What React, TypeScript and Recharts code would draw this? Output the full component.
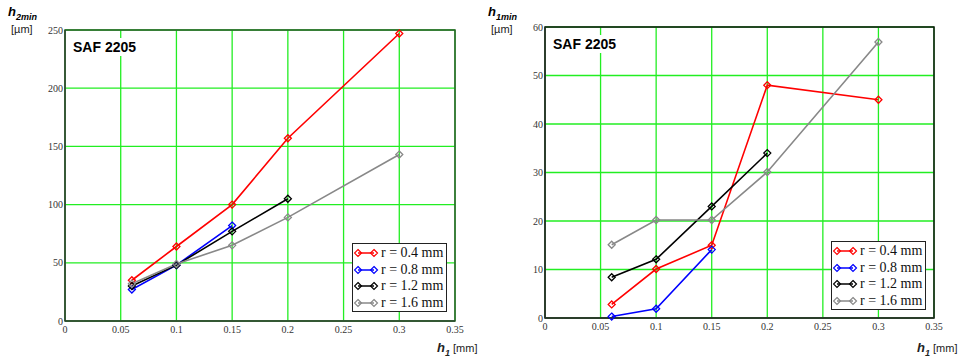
import React from "react";
import {
  CartesianGrid,
  Line,
  LineChart,
  ReferenceArea,
  XAxis,
  YAxis,
} from "recharts";

const seriesNames = ["r = 0.4 mm", "r = 0.8 mm", "r = 1.2 mm", "r = 1.6 mm"];
const seriesColors = ["#ff0000", "#0000ff", "#000000", "#888888"];

// h1 [mm] values per radius
const h1R04 = [0.06, 0.1, 0.15, 0.2, 0.3];
const h1R08 = [0.06, 0.1, 0.15];
const h1R12 = [0.06, 0.1, 0.15, 0.2];
const h1R16 = [0.06, 0.1, 0.15, 0.2, 0.3];

// h2min [µm]
const h2minR04 = [35, 64, 100, 157, 247];
const h2minR08 = [27, 48, 82];
const h2minR12 = [30, 48, 77, 105];
const h2minR16 = [32, 49, 65, 89, 143];

// h1min [µm]
const h1minR04 = [2.8, 10.1, 15, 48, 45];
const h1minR08 = [0.3, 1.9, 14.1];
const h1minR12 = [8.4, 12.1, 23, 34];
const h1minR16 = [15.1, 20.2, 20.2, 30.1, 56.9];

const xTicks = [0, 0.05, 0.1, 0.15, 0.2, 0.25, 0.3, 0.35];
const yTicksLeft = [0, 50, 100, 150, 200, 250];
const yTicksRight = [0, 10, 20, 30, 40, 50, 60];

const xValues = [h1R04, h1R08, h1R12, h1R16];
const zip = (xs: number[], ys: number[]) => xs.map((x, i) => ({ x, y: ys[i] }));

const leftSeries = [h2minR04, h2minR08, h2minR12, h2minR16].map((ys, i) =>
  zip(xValues[i], ys)
);
const rightSeries = [h1minR04, h1minR08, h1minR12, h1minR16].map((ys, i) =>
  zip(xValues[i], ys)
);

const GRID = "#22ee22";
const TICK = { fontSize: 10, fill: "#333", fontFamily: "Liberation Serif" };

function Diamond(props: any) {
  const { cx, cy, stroke } = props;
  if (cx == null || cy == null) return null;
  const s = 3.5;
  return (
    <path
      key={`${cx}-${cy}`}
      d={`M${cx},${cy - s}L${cx + s},${cy}L${cx},${cy + s}L${cx - s},${cy}Z`}
      fill="none"
      stroke={stroke}
      strokeWidth={1.3}
    />
  );
}

function LegendBox({ left, top }: { left: number; top: number }) {
  return (
    <div
      style={{
        position: "absolute",
        left,
        top,
        width: 95,
        height: 69,
        border: "1px solid #222",
        background: "#fff",
        fontFamily: "Liberation Serif",
        fontSize: 14,
        color: "#111",
        boxSizing: "border-box",
        paddingTop: 1,
      }}
    >
      {seriesNames.map((name, i) => (
        <div key={name} style={{ display: "flex", alignItems: "center", height: 16.5 }}>
          <svg width={26} height={10} style={{ marginLeft: 1, flex: "none" }}>
            <line x1={4} y1={5} x2={20} y2={5} stroke={seriesColors[i]} strokeWidth={1.5} />
            <path d="M4,1.5L7.5,5L4,8.5L0.5,5Z" fill="none" stroke={seriesColors[i]} strokeWidth={1.2} />
            <path d="M20,1.5L23.5,5L20,8.5L16.5,5Z" fill="none" stroke={seriesColors[i]} strokeWidth={1.2} />
          </svg>
          <span style={{ marginLeft: 1, whiteSpace: "nowrap" }}>{name}</span>
        </div>
      ))}
    </div>
  );
}

function Panel({
  series,
  yMax,
  yTicks,
  sub,
  margin,
  border,
}: {
  series: { x: number; y: number }[][];
  yMax: number;
  yTicks: number[];
  sub: string;
  margin: { top: number; right: number; bottom: number; left: number };
  border: string;
}) {
  return (
    <div style={{ position: "relative", width: 480, height: 359 }}>
      <LineChart width={480} height={359} margin={margin}>
        <CartesianGrid stroke={GRID} strokeWidth={1.3} />
        <XAxis
          type="number"
          dataKey="x"
          domain={[0, 0.35]}
          ticks={xTicks}
          tick={TICK}
          tickLine={false}
          tickSize={0}
          tickMargin={5}
          axisLine={{ stroke: "#333" }}
          height={20}
        />
        <YAxis
          type="number"
          dataKey="y"
          domain={[0, yMax]}
          ticks={yTicks}
          tick={TICK}
          tickLine={false}
          tickSize={0}
          tickMargin={2}
          axisLine={{ stroke: "#333" }}
          width={65}
        />
        <ReferenceArea x1={0} x2={0.35} y1={0} y2={yMax} fill="none" stroke={border} strokeWidth={1.5} />
        {series.map((d, i) => (
          <Line
            key={seriesNames[i]}
            data={d}
            dataKey="y"
            name={seriesNames[i]}
            stroke={seriesColors[i]}
            strokeWidth={1.6}
            dot={<Diamond />}
            activeDot={false}
            isAnimationActive={false}
          />
        ))}
      </LineChart>
      <div
        style={{
          position: "absolute",
          left: 73,
          top: margin.top + 8,
          background: "#fff",
          fontFamily: "Liberation Sans",
          fontWeight: "bold",
          fontSize: 14,
          padding: "0 2px 0 0",
          lineHeight: "18px",
        }}
      >
        SAF 2205
      </div>
      <div
        style={{
          position: "absolute",
          left: 8,
          top: 4,
          fontFamily: "Liberation Sans",
          fontWeight: "bold",
          fontStyle: "italic",
          fontSize: 13,
        }}
      >
        h<sub style={{ fontSize: 9 }}>{sub}</sub>
      </div>
      <div
        style={{
          position: "absolute",
          left: 11,
          top: 23,
          fontFamily: "Liberation Sans",
          fontSize: 11,
          color: "#222",
        }}
      >
        [µm]
      </div>
      <div
        style={{
          position: "absolute",
          left: 437,
          top: 340,
          fontFamily: "Liberation Sans",
          fontSize: 11,
          color: "#222",
          whiteSpace: "nowrap",
        }}
      >
        <span style={{ fontWeight: "bold", fontStyle: "italic", fontSize: 13 }}>
          h<sub style={{ fontSize: 9 }}>1</sub>
        </span>{" "}
        [mm]
      </div>
    </div>
  );
}

export default function App() {
  return (
    <div
      style={{
        position: "fixed",
        left: 0,
        top: 0,
        width: 960,
        height: 359,
        background: "#fff",
        display: "flex",
      }}
    >
      <div style={{ position: "relative" }}>
        <Panel
          series={leftSeries}
          yMax={250}
          yTicks={yTicksLeft}
          sub="2min"
          margin={{ top: 30, right: 25, bottom: 18, left: 0 }}
          border="#2d5a2d"
        />
        <LegendBox left={352} top={243} />
      </div>
      <div style={{ position: "relative" }}>
        <Panel
          series={rightSeries}
          yMax={60}
          yTicks={yTicksRight}
          sub="1min"
          margin={{ top: 27, right: 26, bottom: 21, left: 0 }}
          border="#111"
        />
        <LegendBox left={351} top={241} />
      </div>
    </div>
  );
}
